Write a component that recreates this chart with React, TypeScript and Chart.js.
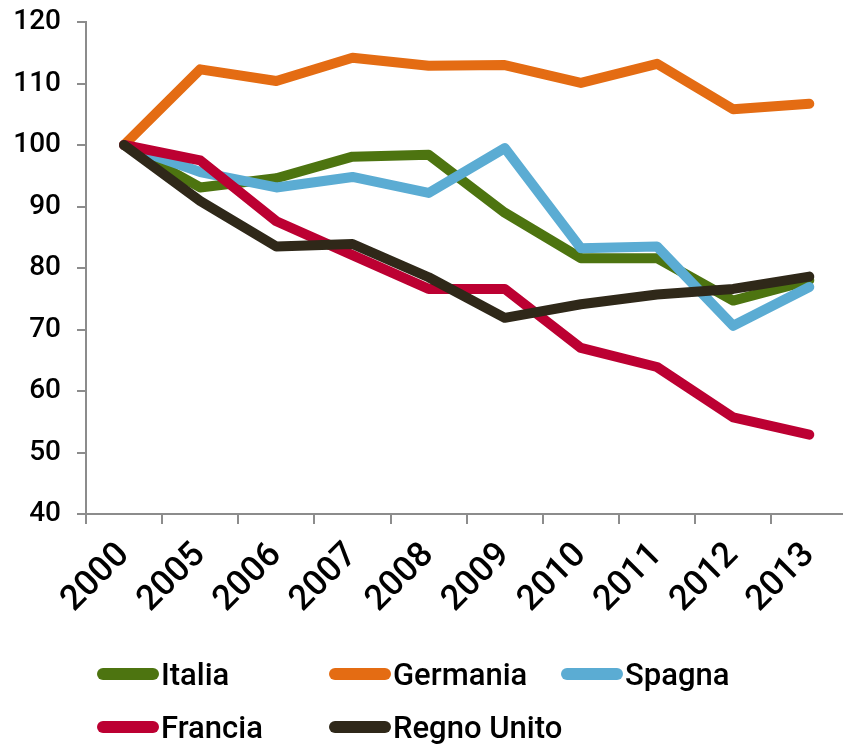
import React, { useEffect, useRef } from "react";
import { Chart, registerables } from "chart.js";

Chart.register(...registerables);

const years = ["2000", "2005", "2006", "2007", "2008", "2009", "2010", "2011", "2012", "2013"];
const italia = [100, 93.1, 94.6, 98.1, 98.4, 89.0, 81.6, 81.6, 74.7, 78.0];
const germania = [100, 112.3, 110.4, 114.2, 112.9, 113.0, 110.1, 113.2, 105.8, 106.7];
const spagna = [100, 95.6, 93.1, 94.8, 92.2, 99.5, 83.2, 83.5, 70.6, 76.9];
const francia = [100, 97.5, 87.6, 82.1, 76.6, 76.6, 67.0, 63.9, 55.7, 52.9];
const regnoUnito = [100, 90.9, 83.5, 83.9, 78.5, 71.9, 74.1, 75.7, 76.6, 78.6];

const seriesNames = ["Italia", "Germania", "Spagna", "Francia", "Regno Unito"];
const seriesColors = ["#4D7410", "#E46C13", "#5BACD3", "#BC0032", "#2F2819"];
const seriesData = [italia, germania, spagna, francia, regnoUnito];

const FONT = "Roboto, 'DejaVu Sans Condensed', sans-serif";
const WEIGHT = 500;
const AXIS = "#8C8C8C";

export default function App() {
  const ref = useRef<HTMLCanvasElement | null>(null);

  useEffect(() => {
    const canvas = ref.current;
    if (!canvas) return;
    const n = seriesNames.length;
    const chart = new Chart(canvas, {
      type: "line",
      data: {
        labels: years,
        datasets: seriesNames.map((name, i) => ({
          label: name,
          data: seriesData[i],
          borderColor: seriesColors[i],
          backgroundColor: seriesColors[i],
          borderWidth: 10,
          pointRadius: 0,
          pointHoverRadius: 0,
          tension: 0,
          borderCapStyle: "round",
          borderJoinStyle: "round",
          order: n - i,
        })),
      },
      options: {
        responsive: false,
        animation: false,
        layout: { padding: { top: 22, left: 0, right: 0, bottom: 0 } },
        plugins: {
          legend: { display: false },
          tooltip: { enabled: false },
        },
        scales: {
          x: {
            type: "category",
            offset: true,
            border: { color: AXIS, width: 2 },
            grid: {
              offset: true,
              drawOnChartArea: false,
              color: AXIS,
              lineWidth: 2,
              tickLength: 10,
            },
            ticks: {
              color: "#000",
              font: { family: FONT, size: 35, weight: WEIGHT },
              minRotation: 45,
              maxRotation: 45,
              padding: 11,
              autoSkip: false,
            },
            afterFit: (scale: any) => {
              scale.height = 745 - 514;
            },
          },
          y: {
            min: 40,
            max: 120,
            border: { color: AXIS, width: 2 },
            grid: {
              drawOnChartArea: false,
              color: AXIS,
              lineWidth: 2,
              tickLength: 9,
            },
            ticks: {
              stepSize: 10,
              color: "#000",
              font: { family: FONT, size: 28, weight: WEIGHT },
              padding: 16,
            },
            afterFit: (scale: any) => {
              scale.width = 86;
              scale.paddingTop = 0;
              scale.paddingBottom = 0;
            },
          },
        },
      },
    });
    return () => chart.destroy();
  }, []);

  const colLeft = [97, 329, 561];
  const rowCenter = [674, 727];

  return (
    <div
      style={{
        position: "absolute",
        left: 0,
        top: 0,
        width: 843,
        height: 745,
        overflow: "hidden",
        background: "#fff",
      }}
    >
      <canvas ref={ref} width={850} height={745} style={{ display: "block", width: 850, height: 745 }} />
      {seriesNames.map((name, i) => {
        const col = i % 3;
        const row = Math.floor(i / 3);
        return (
          <div
            key={name}
            style={{
              position: "absolute",
              left: colLeft[col],
              top: rowCenter[row] - 22,
              height: 44,
              display: "flex",
              alignItems: "center",
              fontFamily: FONT,
              fontWeight: WEIGHT,
              fontSize: 31,
              color: "#000",
              whiteSpace: "nowrap",
            }}
          >
            <span
              style={{
                display: "inline-block",
                width: 62,
                height: 12,
                borderRadius: 6,
                background: seriesColors[i],
                marginRight: 2,
              }}
            />
            <span>{name}</span>
          </div>
        );
      })}
    </div>
  );
}
